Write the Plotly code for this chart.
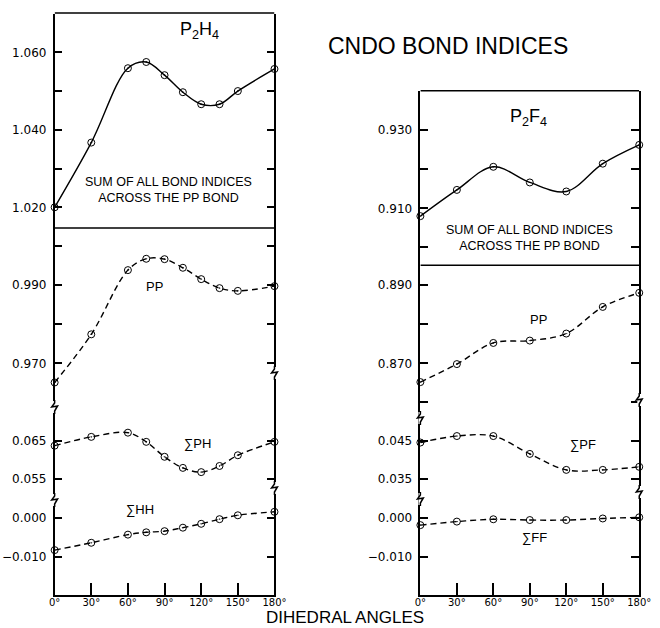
import plotly.graph_objects as go

# ---------------- data ----------------
angles_h = [0, 30, 60, 75, 90, 105, 120, 135, 150, 180]
sum_h = [1.0200, 1.0367, 1.0559, 1.0575, 1.0541, 1.0497, 1.0466, 1.0466, 1.0500, 1.0557]
pp_h = [0.9651, 0.9774, 0.9938, 0.9967, 0.9966, 0.9944, 0.9915, 0.9892, 0.9885, 0.9897]
ph_h = [0.0637, 0.0660, 0.0671, 0.0647, 0.0608, 0.0579, 0.0568, 0.0584, 0.0612, 0.0647]
hh_h = [-0.0083, -0.0064, -0.0043, -0.0037, -0.0034, -0.0025, -0.0015, -0.0003, 0.0007, 0.0016]

angles_f = [0, 30, 60, 90, 120, 150, 180]
sum_f = [0.9080, 0.9147, 0.9206, 0.9166, 0.9143, 0.9214, 0.9262]
pp_f = [0.8652, 0.8698, 0.8752, 0.8758, 0.8776, 0.8844, 0.8880]
pf_f = [0.0446, 0.0463, 0.0463, 0.0416, 0.0374, 0.0374, 0.0382]
ff_f = [-0.0019, -0.0010, -0.0004, -0.0006, -0.0006, -0.0002, 0.0001]

x_ticks = [0, 30, 60, 90, 120, 150, 180]
x_ticktext = ["0°", "30°", "60°", "90°", "120°", "150°", "180°"]

W, H = 660, 628
FONT = "Liberation Sans"
TICKFONT = "DejaVu Sans"


def px(x):
    return x / W


def py(y):
    return 1 - y / H


def rng(top, bottom, va, pa, vb, pb):
    s = (va - vb) / (pb - pa)  # value per pixel
    return [va - (bottom - pa) * s, va + (pa - top) * s]


fig = go.Figure()


def add(xs, ys, xa, ya, dash):
    fig.add_trace(go.Scatter(
        x=xs, y=ys, xaxis=xa, yaxis=ya, mode="lines+markers",
        line=dict(color="black", width=1.4, dash=dash, shape="spline", smoothing=1.0),
        marker=dict(symbol="circle-open-dot", size=7, color="black", line=dict(width=1)),
        cliponaxis=False, showlegend=False, hoverinfo="skip"))


DASH = "6px,4px"
add(angles_h, sum_h, "x", "y", "solid")
add(angles_h, pp_h, "x", "y2", DASH)
add(angles_h, ph_h, "x", "y3", DASH)
add(angles_h, hh_h, "x", "y4", DASH)
add(angles_f, sum_f, "x2", "y5", "solid")
add(angles_f, pp_f, "x2", "y6", DASH)
add(angles_f, pf_f, "x2", "y7", DASH)
add(angles_f, ff_f, "x2", "y8", DASH)


def yaxis(top, bottom, r, tick0, dtick, anchor, minor=None):
    d = dict(domain=[py(bottom), py(top)], range=r, anchor=anchor,
             tickmode="linear", tick0=tick0, dtick=dtick, tickformat=".3f",
             ticks="inside", ticklen=8, tickwidth=1.5, tickcolor="black",
             showline=True, linecolor="black", linewidth=1.6, mirror="ticks",
             showgrid=False, zeroline=False, ticklabelstandoff=4,
             tickfont=dict(family=TICKFONT, size=12, color="black"))
    if minor:
        d["minor"] = dict(tickmode="linear", tick0=tick0, dtick=minor, ticks="inside",
                          ticklen=8, tickwidth=1.5, tickcolor="black", showgrid=False)
    return d


def xaxis(x0, x1, anchor):
    return dict(domain=[px(x0), px(x1)], range=[0, 180], anchor=anchor,
                tickvals=x_ticks, ticktext=x_ticktext,
                ticks="inside", ticklen=12, tickwidth=1.5, tickcolor="black",
                showline=True, linecolor="black", linewidth=1.6,
                showgrid=False, zeroline=False, ticklabelstandoff=-3,
                tickfont=dict(family=TICKFONT, size=10, color="black"))


L0, L1 = 50, 276
R0, R1 = 426, 651

layout = dict(
    width=W, height=H, autosize=False,
    margin=dict(l=0, r=0, t=0, b=0),
    paper_bgcolor="white", plot_bgcolor="rgba(0,0,0,0)",
    xaxis=xaxis(L0, L1, "y4"),
    xaxis2=xaxis(R0, R1, "y8"),
    yaxis=yaxis(13.5, 228, rng(13.5, 228, 1.060, 52.3, 1.020, 207.3), 1.02, 0.02, "x", 0.01),
    yaxis2=yaxis(228, 403, rng(228, 403, 0.990, 285, 0.970, 363.3), 0.97, 0.02, "x", 0.01),
    yaxis3=yaxis(403, 497, rng(403, 497, 0.065, 440.7, 0.055, 479), 0.055, 0.01, "x"),
    yaxis4=yaxis(497, 595, rng(497, 595, 0.0, 518, -0.010, 556.7), 0.0, 0.01, "x"),
    yaxis5=yaxis(91, 265.3, rng(91, 265.3, 0.930, 130, 0.910, 208.3), 0.91, 0.02, "x2", 0.01),
    yaxis6=yaxis(265.3, 410, rng(265.3, 410, 0.890, 285, 0.870, 363.3), 0.87, 0.02, "x2", 0.01),
    yaxis7=yaxis(410, 495, rng(410, 495, 0.045, 441, 0.035, 479), 0.035, 0.01, "x2"),
    yaxis8=yaxis(495, 595, rng(495, 595, 0.0, 517.7, -0.010, 556.7), 0.0, 0.01, "x2"),
)
fig.update_layout(**layout)

shapes = []
# frame top lines and separators
for xr, top, sep in (("x", 13, 228), ("x2", 90.7, 265.3)):
    for yy in (top, sep):
        shapes.append(dict(type="line", xref=xr, yref="paper", x0=0, x1=180,
                           y0=py(yy), y1=py(yy), line=dict(color="black", width=1.6)))

# axis break marks
breaks = [(L0, 407), (L0, 500), (L1, 373), (L1, 488),
          (R0, 418), (R0, 499), (R1, 400), (R1, 492)]
for bx, by in breaks:
    shapes.append(dict(type="rect", xref="paper", yref="paper",
                       x0=px(bx - 2), x1=px(bx + 2), y0=py(by + 6), y1=py(by - 6),
                       fillcolor="white", line=dict(width=0), layer="above"))
    pts = [(bx, by - 7), (bx, by - 4), (bx - 3, by), (bx + 3, by - 1), (bx, by + 4), (bx, by + 7)]
    path = "M " + " L ".join("%.5f,%.5f" % (px(a), py(b)) for a, b in pts)
    shapes.append(dict(type="path", xref="paper", yref="paper", path=path,
                       line=dict(color="black", width=1.5), layer="above"))
fig.update_layout(shapes=shapes)

ann = []


def text(t, x, y, xref, yref, size):
    ann.append(dict(text=t, x=x, y=y, xref=xref, yref=yref, showarrow=False,
                    xanchor="center", yanchor="middle",
                    font=dict(family=FONT, size=size, color="black")))


text("CNDO BOND INDICES", px(454), py(46), "paper", "paper", 23)
text("DIHEDRAL ANGLES", px(349), py(617.5), "paper", "paper", 17)

text("P<sub>2</sub>H<sub>4</sub>", 119, 1.0655, "x", "y", 18)
text("SUM OF ALL BOND INDICES<br>ACROSS THE PP BOND", 93, 1.0245, "x", "y", 12.5)
text("PP", 82, 0.9897, "x", "y2", 13)
text("∑PH", 117, 0.0644, "x", "y3", 13)
text("∑HH", 70, 0.0021, "x", "y4", 13)

text("P<sub>2</sub>F<sub>4</sub>", 89, 0.9331, "x2", "y5", 18)
text("SUM OF ALL BOND INDICES<br>ACROSS THE PP BOND", 90, 0.9024, "x2", "y5", 12.5)
text("PP", 97, 0.8813, "x2", "y6", 13)
text("∑PF", 134, 0.0442, "x2", "y7", 13)
text("∑FF", 94, -0.0052, "x2", "y8", 13)

fig.update_layout(annotations=ann)

fig.write_html("out.html")
